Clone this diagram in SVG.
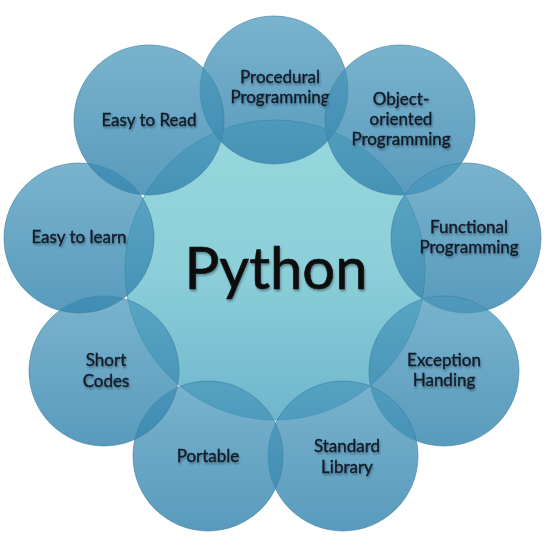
<svg xmlns="http://www.w3.org/2000/svg" width="548" height="548" viewBox="0 0 548 548">
<defs>
<linearGradient id="gc" x1="0" y1="0" x2="0" y2="1">
<stop offset="0" stop-color="#98d8dc"/>
<stop offset="0.5" stop-color="#8ccfd9"/>
<stop offset="1" stop-color="#6fb6cd"/>
</linearGradient>
<linearGradient id="go" x1="0" y1="0" x2="0" y2="1">
<stop offset="0" stop-color="#4a98bc" stop-opacity="0.74"/>
<stop offset="1" stop-color="#3584ae" stop-opacity="0.82"/>
</linearGradient>
<filter id="sh" x="-10%" y="-20%" width="120%" height="160%">
<feGaussianBlur in="SourceAlpha" stdDeviation="1.2"/>
<feOffset dx="1" dy="2"/>
<feComponentTransfer><feFuncA type="linear" slope="0.35"/></feComponentTransfer>
<feMerge><feMergeNode/><feMergeNode in="SourceGraphic"/></feMerge>
</filter>
</defs>
<style>
.o{fill:url(#go);stroke:#3d7f9f;stroke-opacity:0.6;stroke-width:1}
.c{fill:url(#gc);stroke:#5aa3bd;stroke-width:1}
.t{font-family:Lato,"Open Sans",sans-serif;font-size:17px;fill:#121b29;stroke:#121b29;stroke-width:0.35;text-anchor:middle;filter:url(#sh)}
.p{font-family:Lato,"Open Sans",sans-serif;font-size:58px;fill:#0a0a0a;stroke:#0a0a0a;stroke-width:0.6;text-anchor:middle;filter:url(#sh)}
</style>
<rect width="548" height="548" fill="#ffffff"/>
<g id="python">
<circle class="c" cx="275" cy="270" r="150"/>
<text class="p" x="276" y="289">Python</text>
</g>
<g id="procedural">
<circle class="o" cx="274" cy="90" r="74"/>
<text class="t" x="280" y="83">Procedural</text>
<text class="t" x="280" y="103">Programming</text>
</g>
<g id="object-oriented">
<circle class="o" cx="400" cy="120" r="75"/>
<text class="t" x="401" y="105">Object-</text>
<text class="t" x="401" y="125">oriented</text>
<text class="t" x="401" y="145">Programming</text>
</g>
<g id="functional">
<circle class="o" cx="466" cy="238" r="75"/>
<text class="t" x="469" y="233">Functional</text>
<text class="t" x="469" y="253">Programming</text>
</g>
<g id="exception">
<circle class="o" cx="444" cy="371" r="75"/>
<text class="t" x="444" y="366">Exception</text>
<text class="t" x="444" y="386">Handing</text>
</g>
<g id="standard-library">
<circle class="o" cx="343" cy="456" r="75"/>
<text class="t" x="347" y="452">Standard</text>
<text class="t" x="347" y="473">Library</text>
</g>
<g id="portable">
<circle class="o" cx="208" cy="456" r="75"/>
<text class="t" x="208" y="462">Portable</text>
</g>
<g id="short-codes">
<circle class="o" cx="104" cy="371" r="75"/>
<text class="t" x="106" y="366">Short</text>
<text class="t" x="106" y="387">Codes</text>
</g>
<g id="easy-learn">
<circle class="o" cx="79" cy="238" r="75"/>
<text class="t" x="79" y="243">Easy to learn</text>
</g>
<g id="easy-read">
<circle class="o" cx="149" cy="120" r="75"/>
<text class="t" x="149" y="126">Easy to Read</text>
</g>
</svg>
